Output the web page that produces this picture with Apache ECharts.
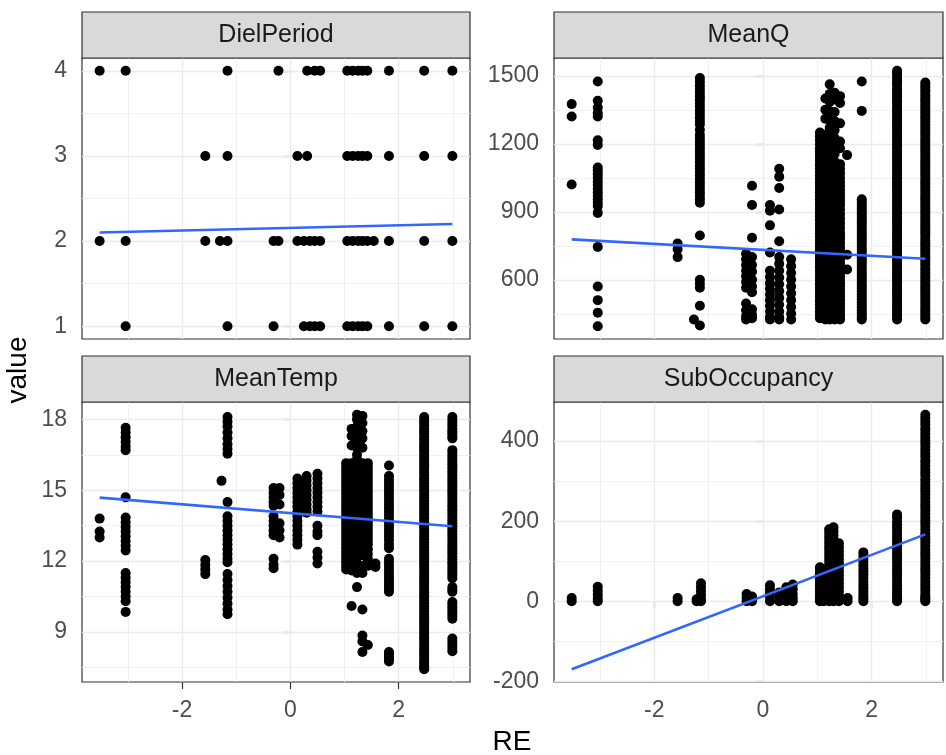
<!DOCTYPE html>
<html>
<head>
<meta charset="utf-8">
<title>RE facets</title>
<script src="https://cdn.jsdelivr.net/npm/echarts@6/dist/echarts.min.js"></script>
<style>
  html, body { margin: 0; padding: 0; background: #ffffff; }
  #chart { width: 946px; height: 755px; }
</style>
</head>
<body>
<div id="chart"></div>
<script>
// ---- data: each column is [RE, [values observed at that RE]] ----
const panelNames = ['DielPeriod', 'MeanQ', 'MeanTemp', 'SubOccupancy'];

const dielPeriodCols = [
  [-3.52, [4, 2]],
  [-3.04, [4, 2, 1]],
  [-1.57, [3, 2]],
  [-1.30, [2]],
  [-1.16, [4, 3, 2, 1]],
  [-0.31, [2, 1]],
  [-0.22, [4, 2]],
  [0.13, [3, 2]],
  [0.25, [2, 1]],
  [0.31, [4, 3]],
  [0.36, [2, 1]],
  [0.45, [4, 2, 1]],
  [0.55, [4, 2, 1]],
  [1.05, [4, 3, 2, 1]],
  [1.15, [4, 3, 2, 1]],
  [1.25, [4, 3, 2, 1]],
  [1.33, [4, 3, 2, 1]],
  [1.42, [4, 3, 2, 1]],
  [1.54, [2]],
  [1.82, [4, 3, 2, 1]],
  [2.47, [4, 3, 2, 1]],
  [2.99, [4, 3, 2, 1]]
];

const meanQCols = [
  [-3.52, [1375, 1320, 1020]],
  [-3.04, [1475, 1390, 1360, 1335, 1320, 1215, 1195, 1095, 1082, 1066, 1050, 1034, 1018, 1002, 986, 970, 955, 940, 925, 895, 745, 570, 510, 455, 395]],
  [-1.57, [760, 735, 700]],
  [-1.27, [425]],
  [-1.16, [1490, 1474, 1458, 1442, 1426, 1410, 1395, 1380, 1364, 1348, 1332, 1316, 1300, 1286, 1262, 1240, 1225, 1210, 1195, 1180, 1165, 1150, 1135, 1120, 1105, 1090, 1075, 1060, 1045, 1030, 1015, 1000, 985, 970, 955, 940, 795, 600, 582, 565, 485, 398]],
  [-0.31, [715, 690, 665, 640, 615, 590, 565, 495, 465, 440, 425]],
  [-0.20, [1015, 930, 785, 700, 665, 635, 600, 570, 545, 470, 445, 430]],
  [0.13, [930, 905, 840, 720, 640, 612, 585, 560, 535, 510, 485, 460, 435, 425]],
  [0.30, [1090, 1055, 1005, 910, 770, 700, 670, 640, 610, 580, 550, 520, 490, 460, 435, 425]],
  [0.52, [690, 660, 630, 600, 570, 540, 510, 480, 450, 425]],
  [1.05, [1250, 1232, 1215, 1198, 1180, 1165, 1150, 1135, 1120, 1105, 1090, 1075, 1060, 1045, 1030, 1015, 1000, 985, 970, 955, 940, 925, 910, 895, 880, 865, 850, 835, 820, 805, 790, 775, 760, 745, 730, 715, 700, 685, 670, 655, 640, 625, 610, 595, 580, 565, 550, 535, 520, 505, 490, 475, 460, 445, 430]],
  [1.15, [1400, 1350, 1310, 1240, 1200, 1165, 1130, 1100, 1065, 1035, 1000, 970, 935, 905, 875, 845, 815, 785, 755, 725, 695, 665, 635, 605, 575, 545, 515, 485, 455, 425]],
  [1.23, [1462, 1420, 1385, 1345, 1305, 1270, 1235, 1200, 1170, 1135, 1100, 1065, 1035, 1000, 965, 935, 900, 870, 840, 805, 775, 745, 715, 685, 655, 625, 595, 565, 535, 505, 475, 445, 425]],
  [1.32, [1425, 1395, 1340, 1300, 1260, 1225, 1190, 1155, 1120, 1085, 1050, 1015, 985, 950, 920, 890, 860, 830, 800, 770, 740, 710, 680, 650, 620, 590, 560, 530, 500, 470, 440, 425]],
  [1.42, [1410, 1380, 1290, 1210, 1180, 1110, 1090, 1070, 1050, 1030, 1012, 995, 978, 960, 945, 930, 910, 890, 870, 850, 830, 810, 795, 780, 762, 745, 730, 715, 702, 690, 675, 660, 645, 630, 615, 600, 585, 570, 555, 540, 525, 510, 495, 480, 465, 450, 437, 425]],
  [1.55, [1150, 710, 645]],
  [1.82, [1475, 1345, 955, 944, 934, 922, 910, 898, 887, 874, 862, 851, 840, 828, 815, 804, 793, 781, 770, 758, 745, 733, 722, 710, 698, 687, 676, 664, 652, 640, 628, 617, 606, 594, 582, 571, 560, 548, 536, 525, 513, 501, 490, 478, 466, 455, 444, 434, 425]],
  [2.47, [1522, 1512, 1505, 1490, 1478, 1468, 1460, 1445, 1431, 1420, 1410, 1398, 1388, 1375, 1362, 1350, 1340, 1328, 1317, 1303, 1290, 1280, 1268, 1255, 1243, 1232, 1220, 1208, 1197, 1185, 1171, 1160, 1150, 1138, 1126, 1115, 1103, 1091, 1080, 1066, 1052, 1041, 1030, 1020, 1011, 998, 986, 974, 962, 951, 940, 928, 915, 904, 893, 880, 868, 857, 846, 833, 820, 808, 797, 786, 775, 763, 751, 740, 728, 716, 703, 691, 680, 668, 657, 645, 633, 621, 610, 599, 588, 575, 562, 551, 540, 528, 515, 503, 492, 481, 470, 458, 447, 436, 425]],
  [2.99, [1470, 1459, 1448, 1436, 1425, 1413, 1401, 1390, 1380, 1368, 1356, 1345, 1333, 1321, 1310, 1298, 1286, 1274, 1262, 1251, 1240, 1227, 1215, 1204, 1193, 1181, 1170, 1158, 1146, 1134, 1122, 1111, 1100, 1088, 1077, 1065, 1053, 1041, 1030, 1019, 1008, 995, 983, 971, 960, 948, 937, 925, 913, 901, 890, 878, 866, 855, 843, 832, 820, 808, 797, 784, 772, 761, 750, 738, 727, 715, 703, 691, 680, 668, 656, 645, 633, 621, 610, 598, 587, 575, 563, 551, 540, 528, 516, 505, 493, 481, 470, 459, 448, 436, 425]]
];

const meanTempCols = [
  [-3.52, [13.8, 13.25, 13.0]],
  [-3.04, [17.65, 17.45, 17.25, 17.05, 16.85, 16.7, 14.7, 13.85, 13.65, 13.45, 13.25, 13.05, 12.85, 12.65, 12.45, 11.5, 11.3, 11.1, 10.9, 10.7, 10.5, 10.3, 9.85]],
  [-1.57, [12.05, 11.85, 11.65, 11.45]],
  [-1.27, [15.4]],
  [-1.16, [18.1, 17.9, 17.7, 17.45, 17.2, 16.95, 16.75, 16.55, 14.5, 13.9, 13.7, 13.5, 13.3, 13.1, 12.9, 12.7, 12.5, 12.3, 12.1, 11.95, 11.45, 11.2, 10.95, 10.7, 10.45, 10.2, 9.95, 9.75]],
  [-0.31, [15.1, 14.9, 14.7, 14.5, 14.35, 13.9, 13.7, 13.5, 13.3, 13.1, 12.1, 11.85, 11.7]],
  [-0.20, [15.1, 14.8, 14.4, 13.6, 13.3, 13.0]],
  [0.13, [15.5, 15.3, 15.1, 14.9, 14.7, 14.5, 14.3, 14.1, 13.9, 13.7, 13.5, 13.3, 13.1, 12.9, 12.7]],
  [0.30, [15.6, 15.4, 15.2, 15.0, 14.8, 14.6, 14.4, 14.2, 14.05]],
  [0.50, [15.7, 15.5, 15.3, 15.1, 14.9, 14.7, 14.5, 14.3, 14.1, 13.5, 13.25, 13.1, 12.4, 12.15, 11.9]],
  [1.03, [16.15, 16.0, 15.85, 15.7, 15.55, 15.4, 15.25, 15.1, 14.95, 14.8, 14.65, 14.5, 14.35, 14.2, 14.05, 13.9, 13.75, 13.6, 13.45, 13.3, 13.15, 13.0, 12.85, 12.7, 12.55, 12.4, 12.25, 12.1, 11.95, 11.8, 11.65]],
  [1.13, [17.6, 17.3, 16.9, 16.15, 15.85, 15.55, 15.25, 14.95, 14.65, 14.35, 14.05, 13.75, 13.45, 13.15, 12.85, 12.55, 12.25, 11.95, 11.6, 10.1]],
  [1.23, [18.2, 18.0, 17.7, 17.4, 17.1, 16.8, 16.5, 16.3, 16.0, 15.7, 15.4, 15.1, 14.8, 14.5, 14.2, 13.9, 13.6, 13.3, 13.0, 12.7, 12.4, 12.15, 11.9, 11.5, 10.9]],
  [1.33, [18.15, 17.85, 17.5, 17.2, 16.8, 16.15, 15.85, 15.55, 15.25, 14.95, 14.65, 14.35, 14.05, 13.75, 13.45, 13.15, 12.85, 12.55, 12.25, 11.8, 11.5, 9.95, 8.85, 8.6, 8.15]],
  [1.43, [16.15, 16.0, 15.85, 15.7, 15.55, 15.4, 15.25, 15.1, 14.95, 14.8, 14.65, 14.5, 14.35, 14.2, 14.05, 13.9, 13.75, 13.6, 13.45, 13.3, 13.15, 13.0, 12.85, 12.7, 12.5, 12.3, 12.1, 11.95, 11.8, 8.45]],
  [1.57, [11.9, 11.75]],
  [1.82, [16.05, 15.6, 15.45, 15.3, 15.15, 15.0, 14.85, 14.7, 14.55, 14.4, 14.25, 14.1, 13.95, 13.8, 13.65, 13.5, 13.35, 13.2, 13.05, 12.9, 12.72, 12.55, 12.1, 11.95, 11.8, 11.65, 11.5, 11.35, 11.2, 11.08, 10.95, 10.82, 10.7, 8.15, 8.05, 7.95, 7.85, 7.75]],
  [2.47, [18.1, 17.98, 17.88, 17.75, 17.62, 17.5, 17.4, 17.27, 17.15, 17.02, 16.9, 16.8, 16.7, 16.58, 16.45, 16.33, 16.22, 16.1, 16.0, 15.88, 15.75, 15.62, 15.5, 15.4, 15.28, 15.16, 15.04, 14.92, 14.8, 14.68, 14.57, 14.45, 14.33, 14.22, 14.1, 13.98, 13.86, 13.74, 13.62, 13.5, 13.4, 13.28, 13.15, 13.03, 12.92, 12.8, 12.7, 12.58, 12.45, 12.33, 12.21, 12.1, 11.98, 11.86, 11.75, 11.62, 11.5, 11.38, 11.27, 11.16, 11.05, 10.92, 10.8, 10.68, 10.56, 10.45, 10.33, 10.22, 10.1, 9.98, 9.86, 9.74, 9.62, 9.5, 9.4, 9.28, 9.15, 9.04, 8.92, 8.8, 8.7, 8.58, 8.45, 8.33, 8.22, 8.1, 8.0, 7.88, 7.75, 7.65, 7.55, 7.48, 7.42]],
  [2.99, [18.1, 17.98, 17.86, 17.74, 17.62, 17.5, 17.4, 17.3, 17.2, 16.7, 16.58, 16.46, 16.34, 16.22, 16.1, 15.98, 15.86, 15.75, 15.62, 15.5, 15.38, 15.27, 15.15, 15.03, 14.92, 14.8, 14.68, 14.56, 14.44, 14.32, 14.2, 14.08, 13.96, 13.85, 13.72, 13.6, 13.48, 13.37, 13.25, 13.13, 13.02, 12.9, 12.78, 12.66, 12.55, 12.43, 12.32, 12.2, 12.08, 11.95, 11.84, 11.72, 11.6, 11.5, 11.39, 11.28, 10.9, 10.8, 10.7, 10.27, 10.16, 10.05, 9.92, 9.8, 9.68, 9.56, 8.72, 8.58, 8.45, 8.32, 8.18]]
];

const subOccupancyCols = [
  [-3.52, [8, 0]],
  [-3.04, [36, 26, 16, 6, 0]],
  [-1.57, [8, 0]],
  [-1.22, [5, 0]],
  [-1.14, [45, 35, 25, 15, 5, 0]],
  [-0.30, [18, 8, 0]],
  [-0.20, [12, 4, 0]],
  [0.13, [40, 30, 20, 10, 0]],
  [0.30, [22, 12, 0]],
  [0.43, [35, 25, 15, 5, 0]],
  [0.55, [42, 30, 18, 8, 0]],
  [1.05, [85, 78, 70, 62, 55, 47, 40, 32, 25, 17, 10, 4, 0]],
  [1.12, [80, 71, 62, 53, 45, 36, 28, 20, 12, 5, 0]],
  [1.22, [180, 171, 162, 153, 144, 135, 126, 117, 108, 99, 90, 81, 72, 63, 54, 45, 36, 27, 18, 9, 0]],
  [1.30, [185, 175, 165, 155, 145, 135, 125, 115, 105, 95, 85, 75, 65, 55, 45, 35, 25, 15, 5, 0]],
  [1.40, [145, 135, 125, 115, 105, 95, 85, 75, 65, 55, 45, 35, 25, 15, 5, 0]],
  [1.56, [8, 0]],
  [1.85, [122, 114, 106, 98, 90, 82, 74, 66, 58, 50, 42, 34, 26, 19, 12, 6, 0]],
  [2.47, [217, 209, 200, 192, 184, 176, 168, 160, 152, 144, 136, 128, 120, 112, 104, 96, 88, 80, 72, 64, 56, 48, 40, 32, 24, 17, 10, 5, 0]],
  [2.99, [466, 458, 450, 442, 433, 426, 418, 410, 402, 394, 386, 378, 370, 362, 353, 346, 338, 330, 322, 314, 305, 298, 290, 282, 274, 266, 258, 250, 241, 234, 226, 218, 210, 202, 194, 186, 178, 170, 162, 154, 146, 138, 130, 122, 114, 106, 98, 90, 82, 74, 66, 58, 50, 42, 34, 26, 18, 12, 8, 4, 0]]
];

// linear fit (lm) end values at the two ends of the RE range
const fitRE = [-3.52, 2.99];
const dielPeriodFit = [2.10, 2.20];
const meanQFit = [778, 693];
const meanTempFit = [14.69, 13.48];
const subOccupancyFit = [-170, 167];

// tick positions
const xMajorTicks = [-2, 0, 2];
const xMinorTicks = [-3, -1, 1, 3];
const dielPeriodTicks = [1, 2, 3, 4];
const dielPeriodMinor = [1.5, 2.5, 3.5];
const meanQTicks = [600, 900, 1200, 1500];
const meanQMinor = [450, 750, 1050, 1350];
const meanTempTicks = [9, 12, 15, 18];
const meanTempMinor = [7.5, 10.5, 13.5, 16.5];
const subOccupancyTicks = [-200, 0, 200, 400];
const subOccupancyMinor = [-100, 100, 300];

// ---- build ----
const panels = [
  { cols: dielPeriodCols, fit: dielPeriodFit, ticks: dielPeriodTicks, minor: dielPeriodMinor },
  { cols: meanQCols, fit: meanQFit, ticks: meanQTicks, minor: meanQMinor },
  { cols: meanTempCols, fit: meanTempFit, ticks: meanTempTicks, minor: meanTempMinor },
  { cols: subOccupancyCols, fit: subOccupancyFit, ticks: subOccupancyTicks, minor: subOccupancyMinor }
];

const FONT = '"Liberation Sans", Arial, Helvetica, sans-serif';
const gridBoxes = [
  { left: 82, top: 58, width: 388, height: 281 },
  { left: 554, top: 58, width: 389, height: 281 },
  { left: 82, top: 402, width: 388, height: 280 },
  { left: 554, top: 402, width: 389, height: 280 }
];
const STRIP_H = 46;

function toPoints(cols) {
  const pts = [];
  cols.forEach(([x, ys]) => ys.forEach(y => pts.push([x, y])));
  return pts;
}
function expanded(lo, hi) {
  const pad = (hi - lo) * 0.05;
  return [lo - pad, hi + pad];
}

// shared x range (5% expansion like ggplot)
let allX = [];
panels.forEach(p => p.cols.forEach(c => allX.push(c[0])));
allX = allX.concat(fitRE);
const xRange = expanded(Math.min(...allX), Math.max(...allX));

const grid = [], xAxis = [], yAxis = [], series = [], graphic = [];

const MAJOR = { color: '#EBEBEB', width: 1.4, type: 'solid', opacity: 1 };
const MINOR = { color: '#F0F0F0', width: 1.0, type: 'solid', opacity: 1 };
const plain = v => String(v);

panels.forEach((p, i) => {
  const box = gridBoxes[i];
  const pts = toPoints(p.cols);
  const ys = pts.map(d => d[1]).concat(p.fit);
  const yRange = expanded(Math.min(...ys), Math.max(...ys));
  const bottomRow = i >= 2;

  grid.push(Object.assign({
    show: true, backgroundColor: '#ffffff', borderColor: '#333333', borderWidth: 1.2,
    containLabel: false
  }, box));

  xAxis.push({
    type: 'value', gridIndex: i, min: xRange[0], max: xRange[1],
    axisLine: { show: false },
    splitLine: { show: false },
    axisTick: { show: bottomRow, length: 7, customValues: xMajorTicks, lineStyle: { color: '#333333', width: 1.2 } },
    axisLabel: {
      show: bottomRow, customValues: xMajorTicks, margin: 17, formatter: plain,
      fontFamily: FONT, fontSize: 23, color: '#4D4D4D'
    }
  });

  yAxis.push({
    type: 'value', gridIndex: i, min: yRange[0], max: yRange[1],
    axisLine: { show: false },
    splitLine: { show: false },
    axisTick: { show: true, length: 7, customValues: p.ticks, lineStyle: { color: '#333333', width: 1.2 } },
    axisLabel: {
      customValues: p.ticks, margin: 15, formatter: plain,
      fontFamily: FONT, fontSize: 23, color: '#4D4D4D'
    }
  });

  // panel grid lines, drawn behind the points
  const gl = [];
  p.minor.forEach(v => gl.push({ yAxis: v, lineStyle: MINOR }));
  xMinorTicks.forEach(v => gl.push({ xAxis: v, lineStyle: MINOR }));
  p.ticks.forEach(v => gl.push({ yAxis: v, lineStyle: MAJOR }));
  xMajorTicks.forEach(v => gl.push({ xAxis: v, lineStyle: MAJOR }));

  series.push({
    type: 'scatter', xAxisIndex: i, yAxisIndex: i, z: 3,
    data: pts, symbolSize: 10,
    itemStyle: { color: '#000000', opacity: 1, borderWidth: 0 },
    emphasis: { disabled: true }, silent: true,
    markLine: {
      silent: true, z: 1, animation: false,
      symbol: ['none', 'none'],
      label: { show: false },
      emphasis: { disabled: true },
      data: gl
    }
  });

  series.push({
    type: 'line', xAxisIndex: i, yAxisIndex: i, z: 4,
    data: [[fitRE[0], p.fit[0]], [fitRE[1], p.fit[1]]],
    showSymbol: false, symbol: 'none',
    lineStyle: { color: '#3366FF', width: 2.6 },
    emphasis: { disabled: true }, silent: true
  });

  // facet strip
  graphic.push({
    type: 'rect', z: 10,
    shape: { x: box.left, y: box.top - STRIP_H, width: box.width, height: STRIP_H },
    style: { fill: '#D9D9D9', stroke: '#333333', lineWidth: 1.2 }
  });
  graphic.push({
    type: 'text', z: 11,
    x: box.left + box.width / 2, y: box.top - STRIP_H / 2,
    style: {
      text: panelNames[i], fontFamily: FONT, fontSize: 25, fill: '#1A1A1A',
      align: 'center', verticalAlign: 'middle'
    }
  });
});

// axis titles
graphic.push({
  type: 'text', z: 11, x: 18, y: 370, rotation: Math.PI / 2,
  style: { text: 'value', fontFamily: FONT, fontSize: 28, fill: '#000000', align: 'center', verticalAlign: 'middle' }
});
graphic.push({
  type: 'text', z: 11, x: 512, y: 742,
  style: { text: 'RE', fontFamily: FONT, fontSize: 28, fill: '#000000', align: 'center', verticalAlign: 'middle' }
});

const chart = echarts.init(document.getElementById('chart'), null, { renderer: 'canvas' });
chart.setOption({
  animation: false,
  backgroundColor: '#ffffff',
  grid, xAxis, yAxis, series, graphic
});
</script>
</body>
</html>
